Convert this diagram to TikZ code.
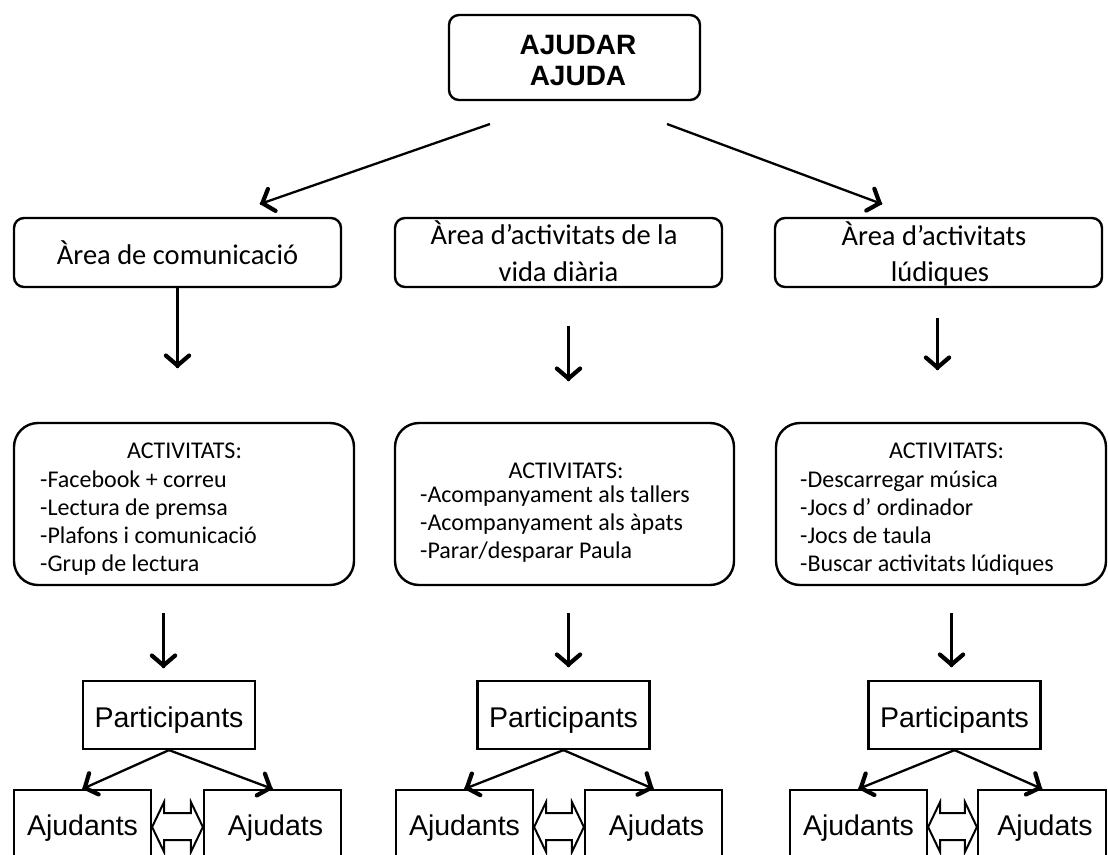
\documentclass[tikz,border=0pt]{standalone}
\usepackage{fontspec}
\setmainfont{Carlito}
\newfontfamily\arialfont{Liberation Sans}
\usetikzlibrary{calc}

% arrow from #1 to #2: a thin shaft and a heavy open chevron at #2
\newcommand\arrowlink[2]{%
  \draw[shaft] (#1) -- (#2);
  \draw[chev] ($(#2)!17pt!43:(#1)$) -- ($(#2)!2.5pt!(#1)$) -- ($(#2)!17pt!-43:(#1)$);}

% hollow two-headed arrow between the east side of #1 and the west side of #2
\newcommand\hollowlink[2]{%
  \draw[dbl] (#1.east) -- ++(12,-25) -- ++(0,11)
    -- ($(#2.west)+(-12,-14)$) -- ++(0,-11) -- (#2.west)
    -- ++(-12,25) -- ++(0,-12) -- ($(#1.east)+(12,13)$)
    -- ++(0,12) -- cycle;}

\begin{document}
\begin{tikzpicture}[x=1pt,y=-1pt,
  roundbox/.style={draw,line width=2.4pt,rounded corners=10pt,inner sep=0pt},
  actbox/.style={draw,line width=2.4pt,rounded corners=24pt,inner sep=0pt},
  sqbox/.style={draw,line width=2.2pt,inner sep=0pt},
  shaft/.style={line width=2.3pt},
  chev/.style={line width=4.2pt,line join=miter,line cap=round},
  dbl/.style={line width=2pt,fill=white,line join=miter},
  areatext/.style={font=\fontsize{28.5}{34}\selectfont,anchor=base,inner sep=0pt},
  acttitle/.style={font=\fontsize{24}{28}\selectfont,anchor=base,inner sep=0pt},
  actline/.style={font=\fontsize{24}{28}\selectfont,anchor=base west,inner sep=0pt},
  headtext/.style={font=\arialfont\bfseries\fontsize{28}{32}\selectfont,anchor=base,inner sep=0pt},
  sanstext/.style={font=\arialfont\fontsize{28.5}{32}\selectfont,anchor=base,inner sep=0pt}]

\useasboundingbox (0,0) rectangle (1108,854);
\begin{scope}
\clip (0,0) rectangle (1108,854);

% root
\node[roundbox,minimum width=251,minimum height=85] (top) at (574.5,57.5) {};
\node[headtext] (topa) at (578,54) {AJUDAR};
\node[headtext] (topb) at (578,85) {AJUDA};

% areas
\node[roundbox,minimum width=327,minimum height=69] (ar1) at (177.5,252.5) {};
\node[roundbox,minimum width=327,minimum height=69] (ar2) at (558.5,252.5) {};
\node[roundbox,minimum width=327,minimum height=69] (ar3) at (938.5,252.5) {};
\node[areatext] (ar1t) at (177.5,264) {Àrea de comunicació};
\node[areatext] (ar2t) at (554,244) {Àrea d’activitats de la};
\node[areatext] (ar2u) at (558.5,281) {vida diària};
\node[areatext] (ar3t) at (934,245) {Àrea d’activitats};
\node[areatext] (ar3u) at (940,281) {lúdiques};

% activities
\node[actbox,minimum width=340,minimum height=162] (ac1) at (184,504) {};
\node[actbox,minimum width=339,minimum height=162] (ac2) at (564.5,504) {};
\node[actbox,minimum width=330,minimum height=162] (ac3) at (941,504) {};

\node[acttitle] (ac1t) at (184.5,458) {ACTIVITATS:};
\node[actline] (ac1a) at (40,487) {-Facebook + correu};
\node[actline] (ac1b) at (40,515) {-Lectura de premsa};
\node[actline] (ac1c) at (40,543) {-Plafons i comunicació};
\node[actline] (ac1d) at (40,571) {-Grup de lectura};

\node[acttitle] (ac2t) at (566,478) {ACTIVITATS:};
\node[actline] (ac2a) at (420,502) {-Acompanyament als tallers};
\node[actline] (ac2b) at (420,530) {-Acompanyament als àpats};
\node[actline] (ac2c) at (420,558) {-Parar/desparar Paula};

\node[acttitle] (ac3t) at (946.5,458) {ACTIVITATS:};
\node[actline] (ac3a) at (800,487) {-Descarregar música};
\node[actline] (ac3b) at (800,515) {-Jocs d’ ordinador};
\node[actline] (ac3c) at (800,543) {-Jocs de taula};
\node[actline] (ac3d) at (800,571) {-Buscar activitats lúdiques};

% participants
\node[sqbox,minimum width=172,minimum height=68] (p1) at (169,715) {};
\node[sqbox,minimum width=172,minimum height=68] (p2) at (563.5,715) {};
\node[sqbox,minimum width=172,minimum height=68] (p3) at (954.5,715) {};
\node[sanstext] (p1t) at (169,727) {Participants};
\node[sanstext] (p2t) at (563.5,727) {Participants};
\node[sanstext] (p3t) at (954.5,727) {Participants};

% helpers and helped
\node[sqbox,minimum width=137,minimum height=74] (h1) at (82.5,827) {};
\node[sqbox,minimum width=137,minimum height=74] (d1) at (272.5,827) {};
\node[sqbox,minimum width=137,minimum height=74] (h2) at (464.5,827) {};
\node[sqbox,minimum width=137,minimum height=74] (d2) at (653.5,827) {};
\node[sqbox,minimum width=137,minimum height=74] (h3) at (858.5,827) {};
\node[sqbox,minimum width=128,minimum height=74] (d3) at (1042,827) {};
\foreach \n in {1,2,3}{
  \node[sanstext] (h\n t) at ($(h\n.center)+(0,8)$) {Ajudants};
  \node[sanstext] (d\n t) at ($(d\n.center)+(3,8)$) {Ajudats};
}

% free arrow ends
\coordinate (s1) at (490,124);  \coordinate (e1) at (260,204);
\coordinate (s2) at (667,124);  \coordinate (e2) at (882,204);
\coordinate (v1) at (177.5,368);
\coordinate (v2s) at (568.5,326); \coordinate (v2e) at (568.5,381);
\coordinate (v3s) at (937.5,318); \coordinate (v3e) at (937.5,370);
\coordinate (w1s) at (163.5,613); \coordinate (w1e) at (163.5,668);
\coordinate (w2s) at (568.5,613); \coordinate (w2e) at (568.5,667);
\coordinate (w3s) at (951.5,613); \coordinate (w3e) at (951.5,667);

\arrowlink{s1}{e1}
\arrowlink{s2}{e2}
\arrowlink{ar1.south}{v1}
\arrowlink{v2s}{v2e}
\arrowlink{v3s}{v3e}
\arrowlink{w1s}{w1e}
\arrowlink{w2s}{w2e}
\arrowlink{w3s}{w3e}

\foreach \n in {1,2,3}{
  \arrowlink{p\n.south}{h\n.north}
  \arrowlink{p\n.south}{d\n.north}
}

\hollowlink{h1}{d1}
\hollowlink{h2}{d2}
\hollowlink{h3}{d3}
\end{scope}
\end{tikzpicture}
\end{document}
